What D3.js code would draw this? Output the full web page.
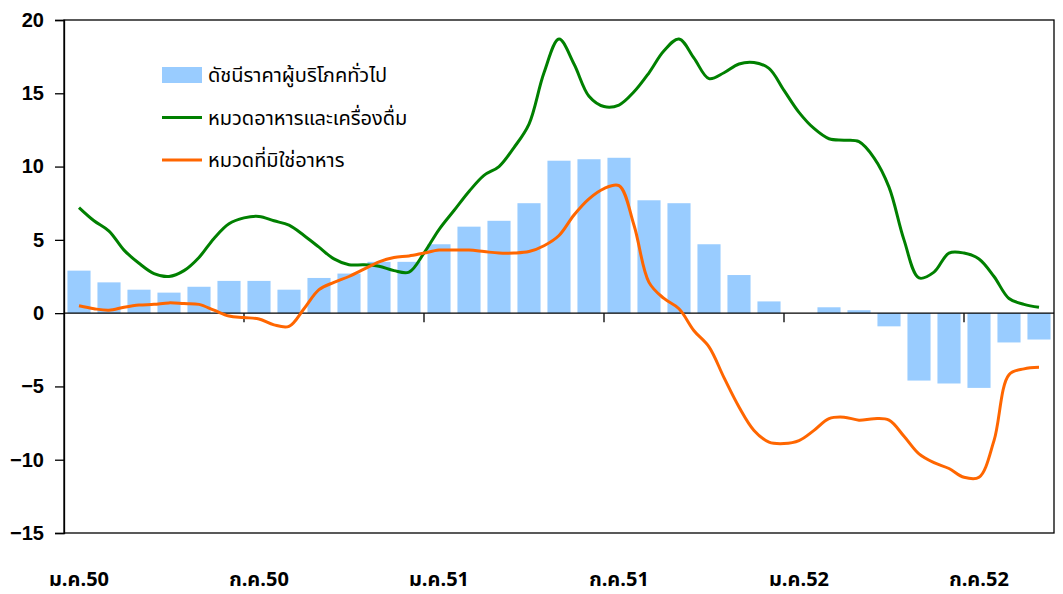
<!DOCTYPE html>
<html>
<head>
<meta charset="utf-8">
<script src="https://cdn.jsdelivr.net/npm/d3@7"></script>
<style>
  body { margin: 0; background: #fff; }
  text { font-family: Arial, "Liberation Sans", sans-serif; }
  .thai { font-family: Tahoma, "Noto Sans Thai", "Noto Sans", sans-serif; }
</style>
</head>
<body>
<script>
    // Monthly categories, Jan 2550 .. Sep 2552
    const months = d3.range(33);
    const tickLabels = ["ม.ค.50", "ก.ค.50", "ม.ค.51", "ก.ค.51", "ม.ค.52", "ก.ค.52"];

    // Headline CPI (bars), one value per month
    const cpi = [2.9, 2.1, 1.6, 1.4, 1.8, 2.2, 2.2, 1.6, 2.4, 2.7,
                 3.5, 3.5, 4.7, 5.9, 6.3, 7.5, 10.4, 10.5, 10.6, 7.7,
                 7.5, 4.7, 2.6, 0.8, 0.0, 0.4, 0.2, -0.9, -4.6, -4.8,
                 -5.1, -2.0, -1.8];

    // Food & beverages (green), read every half month
    const food = [7.2, 6.3, 5.6, 4.3, 3.4, 2.7, 2.5, 2.9, 3.8, 5.1,
                  6.1, 6.5, 6.6, 6.3, 6.0, 5.3, 4.5, 3.7, 3.3, 3.3,
                  3.2, 2.9, 2.8, 4.1, 5.7, 7.0, 8.3, 9.4, 10.0, 11.3,
                  12.9, 16.4, 18.7, 17.0, 14.8, 14.1, 14.2, 15.1, 16.4, 17.9,
                  18.7, 17.4, 16.0, 16.4, 17.0, 17.1, 16.7, 15.2, 13.7, 12.6,
                  11.9, 11.8, 11.7, 10.6, 8.6, 5.0, 2.4, 2.8, 4.1, 4.1,
                  3.7, 2.5, 1.0, 0.6, 0.4];

    // Non-food (orange), read every half month
    const nonFood = [0.5, 0.3, 0.2, 0.4, 0.55, 0.6, 0.7, 0.65, 0.6, 0.2,
                     -0.2, -0.3, -0.4, -0.8, -0.9, 0.3, 1.6, 2.1, 2.5, 3.0,
                     3.5, 3.8, 3.9, 4.1, 4.3, 4.3, 4.3, 4.2, 4.1, 4.1,
                     4.2, 4.6, 5.3, 6.7, 7.8, 8.5, 8.7, 6.0, 2.1, 1.0,
                     0.3, -1.2, -2.3, -4.4, -6.4, -8.0, -8.8, -8.9, -8.7, -8.0,
                     -7.2, -7.1, -7.3, -7.2, -7.3, -8.4, -9.6, -10.2, -10.6, -11.2,
                     -11.2, -8.7, -4.2, -3.8, -3.7];

    const legendNames = ["ดัชนีราคาผู้บริโภคทั่วไป", "หมวดอาหารและเครื่องดื่ม", "หมวดที่มิใช่อาหาร"];
    const colors = { bar: "#99ccff", food: "#008000", nonFood: "#ff6600" };

    const width = 1063, height = 594;
    const plotLeft = 64, plotRight = 1054, plotTop = 20, plotBottom = 533;

    const svg = d3.select("body")
      .append("svg")
      .attr("width", width)
      .attr("height", height);

    const x = d3.scaleBand()
      .domain(months)
      .range([plotLeft, plotRight])
      .paddingInner(0.23)
      .paddingOuter(0.115);

    const y = d3.scaleLinear()
      .domain([-15, 20])
      .range([plotBottom, plotTop]);

    // half-month positions for the lines
    const xl = d3.scaleLinear()
      .domain([0, 32])
      .range([x(0) + x.bandwidth() / 2, x(32) + x.bandwidth() / 2]);

    // Bars
    svg.selectAll("rect.bar")
      .data(cpi)
      .enter()
      .append("rect")
      .attr("class", "bar")
      .attr("x", (d, i) => x(months[i]))
      .attr("width", x.bandwidth())
      .attr("y", d => y(Math.max(0, d)))
      .attr("height", d => Math.abs(y(d) - y(0)))
      .attr("fill", colors.bar);

    // Frame
    svg.append("rect")
      .attr("x", plotLeft)
      .attr("y", plotTop)
      .attr("width", plotRight - plotLeft)
      .attr("height", plotBottom - plotTop)
      .attr("fill", "none")
      .attr("stroke", "#000")
      .attr("stroke-width", 1.3);

    // Y axis
    const yAxis = svg.append("g")
      .attr("transform", `translate(${plotLeft},0)`)
      .call(d3.axisLeft(y).tickValues(d3.range(-15, 21, 5)).tickSize(9).tickPadding(11));
    yAxis.select(".domain").attr("stroke-width", 1.3);
    yAxis.selectAll("line").attr("stroke-width", 1.3);
    yAxis.selectAll("text")
      .attr("font-size", 20)
      .attr("font-weight", "bold")
      .attr("font-family", "Arial, 'Liberation Sans', sans-serif")
      .attr("fill", "#000");

    // Zero line with tick marks every six months
    svg.append("line")
      .attr("x1", plotLeft).attr("x2", plotRight)
      .attr("y1", y(0)).attr("y2", y(0))
      .attr("stroke", "#000")
      .attr("stroke-width", 1.3);

    svg.selectAll("line.xtick")
      .data([6, 12, 18, 24, 30])
      .enter()
      .append("line")
      .attr("class", "xtick")
      .attr("x1", d => x(d) - x.step() * x.paddingInner() / 2)
      .attr("x2", d => x(d) - x.step() * x.paddingInner() / 2)
      .attr("y1", y(0))
      .attr("y2", y(0) + 9)
      .attr("stroke", "#000")
      .attr("stroke-width", 1.3);

    // X labels
    svg.selectAll("text.xlab")
      .data(tickLabels)
      .enter()
      .append("text")
      .attr("class", "xlab thai")
      .attr("x", (d, i) => x(i * 6) + x.bandwidth() / 2)
      .attr("y", 586)
      .attr("text-anchor", "middle")
      .attr("font-size", 20)
      .attr("font-weight", "bold")
      .text(d => d);

    // Lines
    const line = d3.line()
      .x((d, i) => xl(i / 2))
      .y(d => y(d))
      .curve(d3.curveCatmullRom.alpha(0.5));

    svg.append("path")
      .datum(food)
      .attr("d", line)
      .attr("fill", "none")
      .attr("stroke", colors.food)
      .attr("stroke-width", 3);

    svg.append("path")
      .datum(nonFood)
      .attr("d", line)
      .attr("fill", "none")
      .attr("stroke", colors.nonFood)
      .attr("stroke-width", 3);

    // Legend
    const legend = svg.append("g").attr("transform", "translate(162,75)");
    legendNames.forEach((name, i) => {
      const g = legend.append("g").attr("transform", `translate(0,${i * 42.5})`);
      if (i === 0) {
        g.append("rect").attr("x", 0).attr("y", -8).attr("width", 40).attr("height", 16).attr("fill", colors.bar);
      } else {
        g.append("line").attr("x1", 0).attr("x2", 40).attr("y1", 0).attr("y2", 0)
          .attr("stroke", i === 1 ? colors.food : colors.nonFood).attr("stroke-width", 3);
      }
      g.append("text")
        .attr("class", "thai")
        .attr("x", 46)
        .attr("y", 7)
        .attr("font-size", 20)
        .text(name);
    });
</script>
</body>
</html>
